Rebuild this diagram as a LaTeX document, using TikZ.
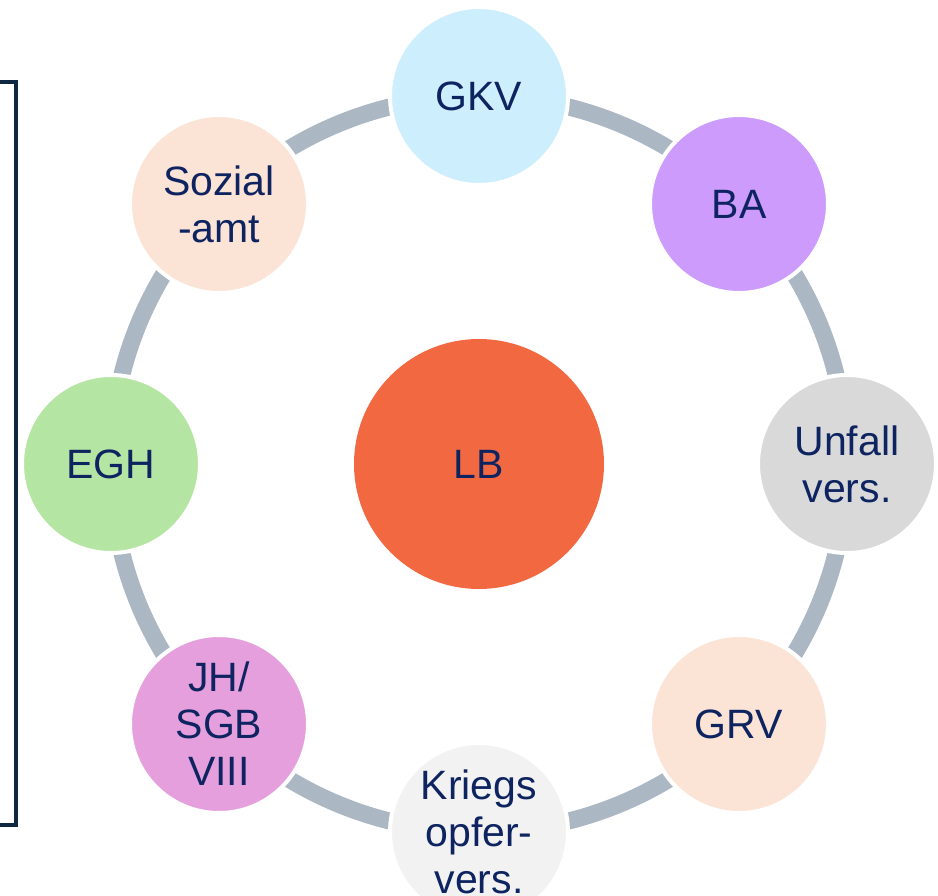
\documentclass[tikz,border=0pt]{standalone}
\usepackage{fontspec}
\setmainfont{Liberation Sans}
\definecolor{txt}{HTML}{0E2461}
\definecolor{ringc}{HTML}{ABB7C3}
\definecolor{brack}{HTML}{0E2841}
\definecolor{cGKV}{HTML}{CDEEFC}
\definecolor{cBA}{HTML}{CC9BFC}
\definecolor{cUV}{HTML}{D9D9D9}
\definecolor{cGRV}{HTML}{FBE3D6}
\definecolor{cKOV}{HTML}{F2F2F2}
\definecolor{cJH}{HTML}{E59FDC}
\definecolor{cEGH}{HTML}{B5E5A2}
\definecolor{cSA}{HTML}{FBE3D6}
\definecolor{cLB}{HTML}{F26841}
\tikzset{
  sat/.style={circle, draw=white, line width=4pt, minimum size=178pt, inner sep=0pt,
    text=txt, align=center, font=\fontsize{41}{47}\selectfont},
  hub/.style={circle, minimum size=250pt, inner sep=0pt, fill=cLB,
    text=txt, font=\fontsize{41}{47}\selectfont},
  ring/.style={draw=ringc, line width=17pt},
  brk/.style={draw=brack, line width=4pt}
}
\begin{document}
\begin{tikzpicture}[x=1pt,y=-1pt]
\useasboundingbox (0,0) rectangle (938,896);
\begin{scope}
\clip (0,0) rectangle (938,896);
\coordinate (c) at (479,464);
\draw[ring] (c) circle (368);
\node[hub] (LB) at (c) {LB};
\node[sat, fill=cGKV] (GKV) at (479,96) {GKV};
\node[sat, fill=cBA] (BA) at (739,204) {BA};
\node[sat, fill=cUV] (UV) at (847,464) {Unfall\\vers.};
\node[sat, fill=cGRV] (GRV) at (739,724) {GRV};
\node[sat, fill=cKOV] (KOV) at (479,832) {Kriegs\\opfer-\\vers.};
\node[sat, fill=cJH] (JH) at (219,724) {JH/\\SGB\\VIII};
\node[sat, fill=cEGH] (EGH) at (111,464) {EGH};
\node[sat, fill=cSA] (SA) at (219,204) {Sozial\\-amt};
\coordinate (bt0) at (0,82);
\coordinate (bt1) at (16,82);
\coordinate (bb1) at (16,825);
\coordinate (bb0) at (0,825);
\draw[brk] (bt0) -- (bt1) -- (bb1) -- (bb0);
\end{scope}
\end{tikzpicture}
\end{document}
